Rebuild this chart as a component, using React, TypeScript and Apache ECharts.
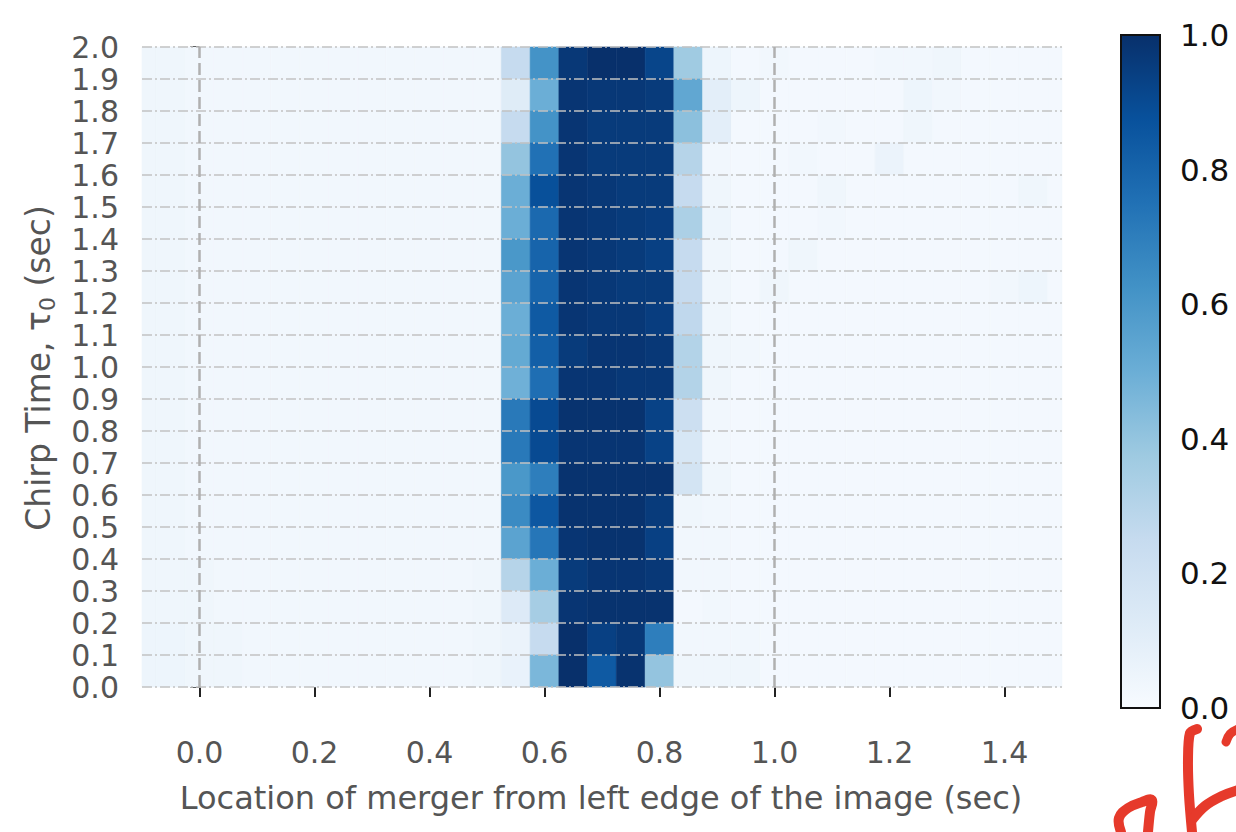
import React, { useEffect, useRef } from "react";
import * as echarts from "echarts";

// x centres of the heatmap columns (sec)
const xCenters = [
  -0.1, -0.05, 0.0, 0.05, 0.1, 0.15, 0.2, 0.25, 0.3, 0.35, 0.4, 0.45, 0.5,
  0.55, 0.6, 0.65, 0.7, 0.75, 0.8, 0.85, 0.9,
  0.95, 1.0, 1.05, 1.1, 1.15, 1.2, 1.25, 1.3, 1.35, 1.4, 1.45, 1.5,
];
// y centres of the heatmap rows (top to bottom)
const yCenters = [
  1.95, 1.85, 1.75, 1.65, 1.55, 1.45, 1.35, 1.25, 1.15, 1.05,
  0.95, 0.85, 0.75, 0.65, 0.55, 0.45, 0.35, 0.25, 0.15, 0.05,
];
const cellW = 0.05;
const cellH = 0.1;

// normalised detection values, one row per y centre (top to bottom)
const heat = [
  [0.04, 0.04, 0.03, 0.03, 0.03, 0.03, 0.03, 0.03, 0.03, 0.03, 0.03, 0.03, 0.03, 0.25, 0.62, 0.97, 1.0, 1.0, 0.92, 0.37, 0.05, 0.02, 0.03, 0.02, 0.02, 0.02, 0.03, 0.03, 0.04, 0.02, 0.02, 0.02, 0.02],
  [0.04, 0.04, 0.03, 0.03, 0.03, 0.03, 0.03, 0.03, 0.03, 0.03, 0.03, 0.03, 0.03, 0.12, 0.5, 0.98, 0.97, 0.97, 0.96, 0.53, 0.1, 0.05, 0.02, 0.02, 0.02, 0.02, 0.02, 0.05, 0.03, 0.02, 0.02, 0.02, 0.02],
  [0.04, 0.04, 0.03, 0.03, 0.03, 0.03, 0.03, 0.03, 0.03, 0.03, 0.03, 0.03, 0.03, 0.25, 0.62, 0.98, 0.96, 0.96, 0.96, 0.42, 0.1, 0.02, 0.02, 0.02, 0.03, 0.02, 0.02, 0.04, 0.02, 0.02, 0.02, 0.02, 0.02],
  [0.04, 0.04, 0.03, 0.03, 0.03, 0.03, 0.03, 0.03, 0.03, 0.03, 0.03, 0.03, 0.03, 0.4, 0.75, 0.98, 0.96, 0.96, 0.96, 0.3, 0.03, 0.02, 0.02, 0.03, 0.02, 0.02, 0.06, 0.02, 0.02, 0.02, 0.02, 0.02, 0.02],
  [0.04, 0.04, 0.03, 0.03, 0.03, 0.03, 0.03, 0.03, 0.03, 0.03, 0.03, 0.03, 0.03, 0.5, 0.88, 0.98, 0.97, 0.96, 0.96, 0.25, 0.04, 0.02, 0.02, 0.02, 0.04, 0.02, 0.02, 0.02, 0.02, 0.02, 0.02, 0.04, 0.02],
  [0.04, 0.04, 0.03, 0.03, 0.03, 0.03, 0.03, 0.03, 0.03, 0.03, 0.03, 0.03, 0.03, 0.5, 0.78, 0.98, 0.97, 0.96, 0.95, 0.33, 0.05, 0.02, 0.02, 0.02, 0.03, 0.02, 0.02, 0.02, 0.02, 0.02, 0.02, 0.02, 0.02],
  [0.04, 0.04, 0.03, 0.03, 0.03, 0.03, 0.03, 0.03, 0.03, 0.03, 0.03, 0.03, 0.03, 0.6, 0.8, 0.98, 0.97, 0.96, 0.94, 0.25, 0.04, 0.02, 0.02, 0.04, 0.02, 0.02, 0.02, 0.02, 0.02, 0.02, 0.02, 0.02, 0.02],
  [0.04, 0.04, 0.03, 0.03, 0.03, 0.03, 0.03, 0.03, 0.03, 0.03, 0.03, 0.03, 0.03, 0.55, 0.8, 0.98, 0.97, 0.96, 0.96, 0.25, 0.04, 0.02, 0.04, 0.02, 0.02, 0.02, 0.02, 0.02, 0.02, 0.02, 0.03, 0.05, 0.02],
  [0.04, 0.04, 0.03, 0.03, 0.03, 0.03, 0.03, 0.03, 0.03, 0.03, 0.03, 0.03, 0.03, 0.5, 0.84, 0.98, 0.97, 0.97, 0.95, 0.27, 0.04, 0.02, 0.02, 0.02, 0.02, 0.02, 0.02, 0.02, 0.02, 0.02, 0.02, 0.02, 0.02],
  [0.04, 0.04, 0.03, 0.03, 0.03, 0.03, 0.03, 0.03, 0.03, 0.03, 0.03, 0.03, 0.03, 0.52, 0.82, 0.96, 0.98, 0.98, 0.97, 0.31, 0.04, 0.03, 0.02, 0.02, 0.02, 0.02, 0.02, 0.02, 0.02, 0.02, 0.02, 0.02, 0.02],
  [0.04, 0.04, 0.03, 0.03, 0.03, 0.03, 0.03, 0.03, 0.03, 0.03, 0.03, 0.03, 0.03, 0.49, 0.76, 0.98, 0.98, 0.97, 0.97, 0.31, 0.04, 0.02, 0.02, 0.02, 0.02, 0.02, 0.02, 0.02, 0.02, 0.02, 0.02, 0.02, 0.02],
  [0.04, 0.04, 0.03, 0.03, 0.03, 0.03, 0.03, 0.03, 0.03, 0.03, 0.03, 0.03, 0.03, 0.72, 0.9, 0.99, 0.99, 0.99, 0.93, 0.22, 0.03, 0.02, 0.02, 0.02, 0.02, 0.02, 0.02, 0.02, 0.02, 0.02, 0.02, 0.02, 0.02],
  [0.04, 0.04, 0.03, 0.03, 0.03, 0.03, 0.03, 0.03, 0.03, 0.03, 0.03, 0.03, 0.03, 0.72, 0.9, 0.98, 0.98, 0.98, 0.93, 0.16, 0.03, 0.02, 0.02, 0.02, 0.02, 0.02, 0.02, 0.02, 0.02, 0.02, 0.02, 0.02, 0.02],
  [0.04, 0.04, 0.03, 0.03, 0.03, 0.03, 0.03, 0.03, 0.03, 0.03, 0.03, 0.03, 0.03, 0.6, 0.7, 0.99, 0.99, 0.99, 0.99, 0.18, 0.04, 0.02, 0.02, 0.02, 0.02, 0.02, 0.02, 0.02, 0.02, 0.02, 0.02, 0.02, 0.02],
  [0.04, 0.04, 0.03, 0.03, 0.03, 0.03, 0.03, 0.03, 0.03, 0.03, 0.03, 0.03, 0.03, 0.65, 0.85, 0.99, 0.99, 0.99, 0.96, 0.04, 0.03, 0.02, 0.02, 0.02, 0.02, 0.02, 0.02, 0.02, 0.02, 0.02, 0.02, 0.02, 0.02],
  [0.04, 0.04, 0.03, 0.03, 0.03, 0.03, 0.03, 0.03, 0.03, 0.03, 0.03, 0.03, 0.03, 0.55, 0.73, 0.98, 0.99, 0.99, 0.94, 0.03, 0.03, 0.02, 0.02, 0.02, 0.02, 0.02, 0.02, 0.02, 0.02, 0.02, 0.02, 0.02, 0.02],
  [0.04, 0.04, 0.04, 0.03, 0.03, 0.03, 0.03, 0.03, 0.03, 0.03, 0.03, 0.03, 0.04, 0.3, 0.5, 0.96, 0.98, 0.98, 0.97, 0.03, 0.03, 0.02, 0.02, 0.02, 0.02, 0.02, 0.02, 0.02, 0.02, 0.02, 0.02, 0.02, 0.02],
  [0.04, 0.04, 0.04, 0.03, 0.03, 0.03, 0.03, 0.03, 0.03, 0.03, 0.03, 0.03, 0.04, 0.13, 0.35, 0.98, 0.99, 0.99, 0.99, 0.02, 0.03, 0.02, 0.02, 0.02, 0.02, 0.02, 0.02, 0.02, 0.02, 0.02, 0.02, 0.02, 0.02],
  [0.05, 0.05, 0.04, 0.04, 0.03, 0.03, 0.03, 0.03, 0.03, 0.03, 0.03, 0.03, 0.04, 0.06, 0.25, 1.0, 0.94, 0.97, 0.7, 0.03, 0.03, 0.03, 0.02, 0.02, 0.02, 0.02, 0.02, 0.02, 0.02, 0.02, 0.02, 0.02, 0.02],
  [0.05, 0.05, 0.04, 0.04, 0.03, 0.03, 0.03, 0.03, 0.03, 0.03, 0.03, 0.03, 0.04, 0.07, 0.46, 1.0, 0.84, 0.99, 0.4, 0.04, 0.04, 0.04, 0.02, 0.02, 0.02, 0.02, 0.02, 0.02, 0.02, 0.02, 0.02, 0.02, 0.02],
];

const xTicks = [0.0, 0.2, 0.4, 0.6, 0.8, 1.0, 1.2, 1.4];
const yTicks = [
  0.0, 0.1, 0.2, 0.3, 0.4, 0.5, 0.6, 0.7, 0.8, 0.9, 1.0,
  1.1, 1.2, 1.3, 1.4, 1.5, 1.6, 1.7, 1.8, 1.9, 2.0,
];
const refLines = [0.0, 1.0];
const blues = [
  "#f7fbff", "#deebf7", "#c6dbef", "#9ecae1", "#6baed6",
  "#4292c6", "#2171b5", "#08519c", "#08306b",
];

const xTitle = "Location of merger from left edge of the image (sec)";
const FONT = "DejaVu Sans";

export default function App() {
  const ref = useRef<HTMLDivElement>(null);

  useEffect(() => {
    document.body.style.margin = "0";
    if (!ref.current) return;
    const chart = echarts.init(ref.current, null, { renderer: "svg" });

    const cells: number[][] = [];
    yCenters.forEach((y, r) => {
      xCenters.forEach((x, k) => {
        cells.push([x, y, heat[r][k]]);
      });
    });

    const option: any = {
      animation: false,
      backgroundColor: "#ffffff",
      grid: [
        { left: 142, top: 47, width: 920, height: 640 },
        { left: 1121, top: 35, width: 39, height: 673 },
      ],
      xAxis: [
        {
          type: "value",
          gridIndex: 0,
          min: -0.1,
          max: 1.5,
          offset: 31,
          axisLine: { show: false },
          axisTick: {
            show: true,
            customValues: xTicks,
            length: 10,
            lineStyle: { color: "#222", width: 2 },
          },
          axisLabel: {
            customValues: xTicks,
            fontSize: 30,
            fontFamily: FONT,
            color: "#555",
            margin: 19,
            formatter: (v: number) => v.toFixed(1),
          },
          splitLine: { show: false },
        },
        {
          type: "value",
          gridIndex: 1,
          min: 0,
          max: 1,
          show: false,
        },
      ],
      yAxis: [
        {
          type: "value",
          gridIndex: 0,
          min: 0,
          max: 2,
          interval: 0.1,
          offset: 2,
          axisLine: { show: false },
          axisTick: { show: true, length: 9, lineStyle: { color: "#222", width: 2 } },
          axisLabel: {
            fontSize: 30,
            lineHeight: 26,
            fontFamily: FONT,
            color: "#555",
            margin: 21,
            formatter: (v: number) => v.toFixed(1),
          },
          splitLine: { show: false },
        },
        {
          type: "value",
          gridIndex: 1,
          position: "right",
          min: 0,
          max: 1,
          interval: 0.2,
          axisLine: { show: false },
          axisTick: { show: true, length: 7, lineStyle: { color: "#111", width: 1.5 } },
          axisLabel: {
            fontSize: 31,
            fontFamily: FONT,
            color: "#111",
            margin: 20,
            formatter: (v: number) => v.toFixed(1),
          },
          splitLine: { show: false },
        },
      ],
      visualMap: {
        type: "continuous",
        show: false,
        min: 0,
        max: 1,
        dimension: 2,
        seriesIndex: 0,
        inRange: { color: blues },
      },
      series: [
        {
          type: "custom",
          xAxisIndex: 0,
          yAxisIndex: 0,
          z: 2,
          data: cells,
          renderItem: (params: any, api: any) => {
            const x = api.value(0);
            const y = api.value(1);
            const p0 = api.coord([x - cellW / 2, y + cellH / 2]);
            const p1 = api.coord([x + cellW / 2, y - cellH / 2]);
            const cs = params.coordSys;
            const rect = echarts.graphic.clipRectByRect(
              { x: p0[0], y: p0[1], width: p1[0] - p0[0], height: p1[1] - p0[1] },
              { x: cs.x, y: cs.y, width: cs.width, height: cs.height }
            );
            if (!rect) return null;
            const c = api.visual("color");
            return {
              type: "rect",
              shape: rect,
              style: { fill: c, stroke: c, lineWidth: 0.6 },
            };
          },
        },
        {
          type: "custom",
          xAxisIndex: 0,
          yAxisIndex: 0,
          z: 5,
          silent: true,
          data: yTicks.map((v) => [-0.1, v]),
          renderItem: (params: any, api: any) => {
            const v = api.value(1);
            const a = api.coord([-0.1, v]);
            const b = api.coord([1.5, v]);
            return {
              type: "line",
              shape: { x1: a[0], y1: a[1], x2: b[0], y2: b[1] },
              style: { stroke: "#c2c2c2", lineWidth: 1.6, lineDash: [10, 3, 2, 3] },
            };
          },
        },
        {
          type: "custom",
          xAxisIndex: 0,
          yAxisIndex: 0,
          z: 6,
          silent: true,
          data: refLines.map((v) => [v, 0]),
          renderItem: (params: any, api: any) => {
            const v = api.value(0);
            const a = api.coord([v, 0]);
            const b = api.coord([v, 2]);
            return {
              type: "line",
              shape: { x1: a[0], y1: a[1], x2: b[0], y2: b[1] },
              style: { stroke: "#b0b0b0", lineWidth: 2.5, lineDash: [12, 5] },
            };
          },
        },
        {
          type: "custom",
          xAxisIndex: 1,
          yAxisIndex: 1,
          z: 2,
          silent: true,
          data: [[0, 0]],
          renderItem: (params: any, api: any) => {
            const cs = params.coordSys;
            const stops = blues.map((c, i) => ({ offset: i / (blues.length - 1), color: c }));
            return {
              type: "group",
              children: [
                {
                  type: "rect",
                  shape: { x: cs.x, y: cs.y, width: cs.width, height: cs.height },
                  style: {
                    fill: { type: "linear", x: 0, y: 1, x2: 0, y2: 0, colorStops: stops },
                  },
                },
                {
                  type: "rect",
                  shape: { x: cs.x, y: cs.y, width: cs.width, height: cs.height },
                  style: { fill: "none", stroke: "#111", lineWidth: 2 },
                },
              ],
            };
          },
        },
      ],
      graphic: [
        {
          type: "text",
          x: 601,
          y: 798,
          style: {
            text: xTitle,
            font: `32px "${FONT}"`,
            fill: "#555",
            align: "center",
            verticalAlign: "middle",
          },
        },
        {
          type: "text",
          x: 38,
          y: 368,
          rotation: Math.PI / 2,
          style: {
            text: "{a|Chirp Time, τ}{s|0}{a| (sec)}",
            align: "center",
            verticalAlign: "middle",
            rich: {
              a: { fontSize: 33, fontFamily: FONT, fill: "#555", lineHeight: 40 },
              s: { fontSize: 22, fontFamily: FONT, fill: "#555", lineHeight: 22, verticalAlign: "bottom" },
            },
          },
        },
        {
          type: "polyline",
          shape: { points: [[1121, 832], [1119, 818], [1128, 808], [1142, 802], [1152, 800], [1150, 812], [1148, 832]], smooth: 0.4 },
          style: { stroke: "#e63a2b", lineWidth: 10, lineCap: "round", lineJoin: "round", fill: "none" },
        },
        {
          type: "polyline",
          shape: { points: [[1197, 729], [1190, 733], [1188, 760], [1189, 795], [1192, 832]], smooth: 0.3 },
          style: { stroke: "#e63a2b", lineWidth: 10, lineCap: "round", lineJoin: "round", fill: "none" },
        },
        {
          type: "polyline",
          shape: { points: [[1192, 820], [1205, 806], [1222, 796], [1238, 790]], smooth: 0.4 },
          style: { stroke: "#e63a2b", lineWidth: 10, lineCap: "round", lineJoin: "round", fill: "none" },
        },
        {
          type: "polyline",
          shape: { points: [[1226, 742], [1230, 734], [1238, 729]], smooth: 0.4 },
          style: { stroke: "#e63a2b", lineWidth: 9, lineCap: "round", lineJoin: "round", fill: "none" },
        },
      ],
    };

    chart.setOption(option);
    return () => chart.dispose();
  }, []);

  return <div ref={ref} style={{ width: 1236, height: 832 }} />;
}
